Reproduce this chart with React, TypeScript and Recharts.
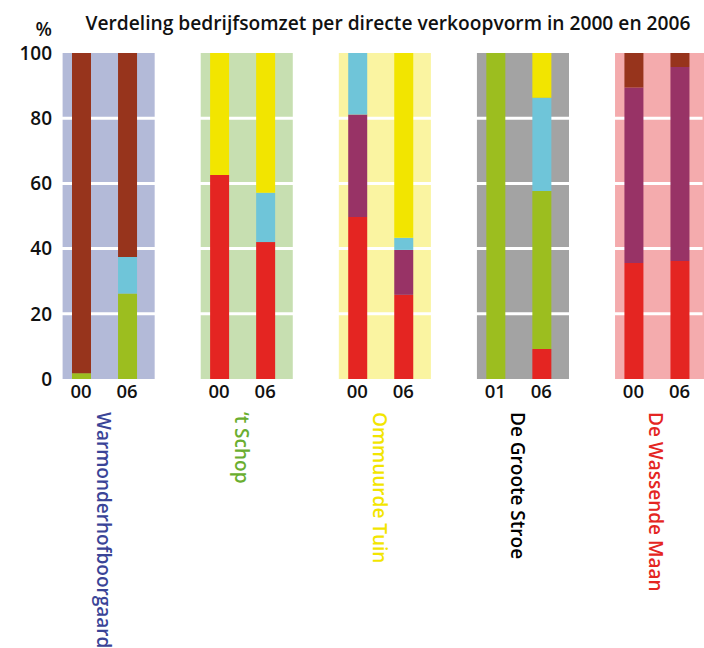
import { BarChart, Bar, XAxis, YAxis, ReferenceArea, ReferenceLine } from "recharts";

const farms = ["Warmonderhofboorgaard", "‘t Schop", "Ommuurde Tuin", "De Groote Stroe", "De Wassende Maan"];
const years = ["00", "06", "00", "06", "00", "06", "01", "06", "00", "06"];

// share of turnover per sales channel, % (bottom to top in each bar)
const red = [0, 0, 62.6, 42.0, 49.7, 25.8, 0, 9.2, 35.6, 36.2];
const green = [1.8, 26.2, 0, 0, 0, 0, 100, 48.5, 0, 0];
const purple = [0, 0, 0, 0, 31.4, 13.8, 0, 0, 53.8, 59.5];
const cyan = [0, 11.2, 0, 15.1, 18.9, 3.7, 0, 28.6, 0, 0];
const yellow = [0, 0, 37.4, 42.9, 0, 56.7, 0, 13.7, 0, 0];
const brown = [98.2, 62.6, 0, 0, 0, 0, 0, 0, 10.6, 4.3];

const yTicks = [0, 20, 40, 60, 80, 100];

const bandColors = ["#B3BAD8", "#C7DFB1", "#FAF4A1", "#A3A3A3", "#F4ABAD"];
const nameColors = ["#3A4497", "#6AAE2F", "#F2E500", "#000000", "#E42522"];

const series = [
  { key: "red", color: "#E42522" },
  { key: "green", color: "#9CBE1F" },
  { key: "purple", color: "#983366" },
  { key: "cyan", color: "#6FC5D9" },
  { key: "yellow", color: "#F2E500" },
  { key: "brown", color: "#97341C" },
];

const SLOTS = 3; // two bars + one empty slot per farm
const X_DOMAIN = [-0.5, 13.5];

const data = years.map((year, i) => ({
  x: Math.floor(i / 2) * SLOTS + (i % 2),
  year,
  red: red[i],
  green: green[i],
  purple: purple[i],
  cyan: cyan[i],
  yellow: yellow[i],
  brown: brown[i],
}));

const font = "'Open Sans', sans-serif";

function FarmTick(props: any) {
  const { x, y, payload } = props;
  const idx = Math.round((payload.value - 0.5) / SLOTS);
  return (
    <text
      x={x}
      y={y}
      transform={`rotate(90, ${x}, ${y})`}
      textAnchor="start"
      dominantBaseline="central"
      fill={nameColors[idx]}
      fontSize={19}
      fontWeight={600}
      fontFamily={font}
    >
      {farms[idx]}
    </text>
  );
}

export default function App() {
  return (
    <div style={{ position: "absolute", left: 0, top: 0, width: 704, height: 648, fontFamily: font }}>
      <div style={{ position: "absolute", left: 0, width: 776, top: 9, textAlign: "center", fontSize: 19.2, fontWeight: 600, color: "#111" }}>
        Verdeling bedrijfsomzet per directe verkoopvorm in 2000 en 2006
      </div>
      <div style={{ position: "absolute", right: 652, top: 16, fontSize: 19, fontWeight: 600, color: "#111" }}>%</div>
      <BarChart width={704} height={648} data={data} margin={{ top: 53, right: 1.5, bottom: 0, left: 0 }}>
        {farms.map((f, g) => (
          <ReferenceArea
            key={f}
            xAxisId="a_yr"
            x1={g * SLOTS - 0.4}
            x2={g * SLOTS + 1.6}
            y1={0}
            y2={100}
            fill={bandColors[g]}
            fillOpacity={1}
            stroke="none"
            ifOverflow="visible"
            zIndex={100}
          />
        ))}
        {yTicks.slice(1, -1).map((t) => (
          <ReferenceLine key={t} xAxisId="a_yr" y={t} stroke="#fff" strokeWidth={3} zIndex={200} />
        ))}
        <XAxis
          xAxisId="a_yr"
          dataKey="x"
          type="number"
          domain={X_DOMAIN}
          allowDataOverflow
          ticks={data.map((d) => d.x)}
          tickFormatter={(v: number) => data.find((d) => d.x === v)?.year ?? ""}
          axisLine={false}
          tickLine={false}
          tickSize={0}
          tickMargin={6}
          height={30}
          interval={0}
          tick={{ fill: "#111", fontSize: 18.5, fontWeight: 600, fontFamily: font }}
        />
        <XAxis
          xAxisId="b_farm"
          dataKey="x"
          type="number"
          domain={X_DOMAIN}
          allowDataOverflow
          ticks={farms.map((_, g) => g * SLOTS + 0.5)}
          axisLine={false}
          tickLine={false}
          tickSize={0}
          tickMargin={3}
          height={239}
          interval={0}
          tick={<FarmTick />}
        />
        <YAxis
          domain={[0, 100]}
          ticks={yTicks}
          width={58}
          axisLine={false}
          tickLine={false}
          tickSize={0}
          tickMargin={6}
          interval={0}
          tick={{ fill: "#111", fontSize: 19, fontWeight: 600, fontFamily: font }}
        />
        {series.map((s) => (
          <Bar
            key={s.key}
            xAxisId="a_yr"
            dataKey={s.key}
            stackId="a"
            fill={s.color}
            barSize={19}
            isAnimationActive={false}
          />
        ))}
      </BarChart>
    </div>
  );
}
